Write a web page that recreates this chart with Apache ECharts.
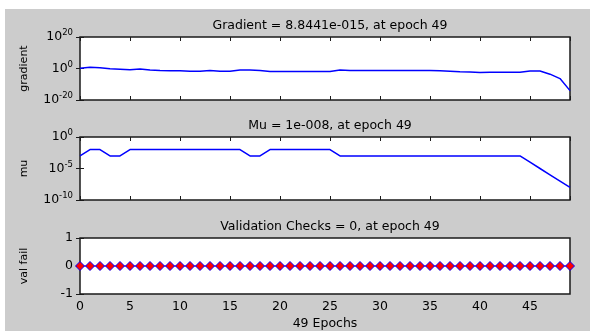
<!DOCTYPE html>
<html>
<head>
<meta charset="utf-8">
<script src="https://cdn.jsdelivr.net/npm/echarts@6/dist/echarts.min.js"></script>
<style>
  html, body { margin: 0; padding: 0; background: #ffffff; }
  #chart { position: absolute; left: 5px; top: 9px; width: 585px; height: 322px; background: #cccccc; }
</style>
</head>
<body>
<div id="chart"></div>
<script>
// Training record of a neural network, 49 epochs
const epochs = [0,1,2,3,4,5,6,7,8,9,10,11,12,13,14,15,16,17,18,19,20,21,22,23,24,25,26,27,28,29,30,31,32,33,34,35,36,37,38,39,40,41,42,43,44,45,46,47,48,49];

const gradient = [
  1.6, 6.3, 3.2, 0.63, 0.32, 0.16, 0.5, 0.1, 0.05, 0.04,
  0.032, 0.02, 0.02, 0.05, 0.02, 0.02, 0.1, 0.13, 0.05, 0.013,
  0.0126, 0.0126, 0.0126, 0.0126, 0.0126, 0.0126, 0.13, 0.063, 0.05, 0.05,
  0.05, 0.05, 0.05, 0.05, 0.05, 0.05, 0.032, 0.016, 0.008, 0.005,
  0.003, 0.004, 0.004, 0.004, 0.004, 0.025, 0.025, 2.5e-4, 4e-7, 8.8441e-15
];

const mu = [
  1e-3, 1e-2, 1e-2, 1e-3, 1e-3, 1e-2, 1e-2, 1e-2, 1e-2, 1e-2,
  1e-2, 1e-2, 1e-2, 1e-2, 1e-2, 1e-2, 1e-2, 1e-3, 1e-3, 1e-2,
  1e-2, 1e-2, 1e-2, 1e-2, 1e-2, 1e-2, 1e-3, 1e-3, 1e-3, 1e-3,
  1e-3, 1e-3, 1e-3, 1e-3, 1e-3, 1e-3, 1e-3, 1e-3, 1e-3, 1e-3,
  1e-3, 1e-3, 1e-3, 1e-3, 1e-3, 1e-4, 1e-5, 1e-6, 1e-7, 1e-8
];

const valFail = [
  0,0,0,0,0,0,0,0,0,0, 0,0,0,0,0,0,0,0,0,0,
  0,0,0,0,0,0,0,0,0,0, 0,0,0,0,0,0,0,0,0,0,
  0,0,0,0,0,0,0,0,0,0
];

const titles = [
  'Gradient = 8.8441e-015, at epoch 49',
  'Mu = 1e-008, at epoch 49',
  'Validation Checks = 0, at epoch 49'
];
const yNames = ['gradient', 'mu', 'val fail'];
const xName = '49 Epochs';

const FONT = 'DejaVu Sans';
const AX = '#1a1a1a';
const BLUE = '#0000ff';

const chart = echarts.init(document.getElementById('chart'), null, { renderer: 'canvas' });

// plot boxes (relative to the gray figure area)
const boxes = [
  { left: 75, top: 28, width: 490, height: 63 },
  { left: 75, top: 128, width: 490, height: 63 },
  { left: 75, top: 229, width: 490, height: 63 }
];

const grids = boxes.map(b => ({
  left: b.left, top: b.top, width: b.width, height: b.height,
  show: true, backgroundColor: '#ffffff', borderColor: AX, borderWidth: 1.5,
  containLabel: false
}));

const supLabel = {
  fontFamily: FONT, color: '#000', fontSize: 12.5, margin: 7,
  formatter: v => '{b|10}{s|' + Math.round(Math.log10(v)) + '}',
  rich: {
    b: { fontFamily: FONT, fontSize: 12.5, color: '#000' },
    s: { fontFamily: FONT, fontSize: 8.5, color: '#000', padding: [0, 0, 8, 0] }
  }
};

const tick = { show: true, inside: true, length: 4, lineStyle: { color: AX, width: 1 } };

const xAxes = [];
const yAxes = [];
for (let g = 0; g < 3; g++) {
  // bottom axis
  xAxes.push({
    type: 'value', gridIndex: g, min: 0, max: 49, interval: 5, position: 'bottom',
    axisLine: { show: false }, splitLine: { show: false }, axisTick: tick,
    axisLabel: g === 2
      ? { show: true, fontFamily: FONT, fontSize: 12.5, color: '#000', margin: 6, showMaxLabel: false }
      : { show: false },
    name: g === 2 ? xName : '', nameLocation: 'middle', nameGap: 23,
    nameTextStyle: { fontFamily: FONT, fontSize: 12.5, color: '#000' }
  });
  // top axis (tick marks only)
  xAxes.push({
    type: 'value', gridIndex: g, min: 0, max: 49, interval: 5, position: 'top',
    axisLine: { show: false }, splitLine: { show: false }, axisTick: tick,
    axisLabel: { show: false }
  });
}

// gradient (log)
yAxes.push({
  type: 'log', logBase: 10, gridIndex: 0, min: 1e-20, max: 1e20, interval: 20, splitNumber: 2,
  position: 'left', axisLine: { show: false }, splitLine: { show: false }, axisTick: tick,
  axisLabel: supLabel,
  name: yNames[0], nameLocation: 'middle', nameGap: 50,
  nameTextStyle: { fontFamily: FONT, fontSize: 11, color: '#000' }
});
yAxes.push({
  type: 'log', logBase: 10, gridIndex: 0, min: 1e-20, max: 1e20, interval: 20, splitNumber: 2,
  position: 'right', axisLine: { show: false }, splitLine: { show: false }, axisTick: tick,
  axisLabel: { show: false }
});
// mu (log)
yAxes.push({
  type: 'log', logBase: 10, gridIndex: 1, min: 1e-10, max: 1, interval: 5, splitNumber: 2,
  position: 'left', axisLine: { show: false }, splitLine: { show: false }, axisTick: tick,
  axisLabel: supLabel,
  name: yNames[1], nameLocation: 'middle', nameGap: 50,
  nameTextStyle: { fontFamily: FONT, fontSize: 11, color: '#000' }
});
yAxes.push({
  type: 'log', logBase: 10, gridIndex: 1, min: 1e-10, max: 1, interval: 5, splitNumber: 2,
  position: 'right', axisLine: { show: false }, splitLine: { show: false }, axisTick: tick,
  axisLabel: { show: false }
});
// validation fails
yAxes.push({
  type: 'value', gridIndex: 2, min: -1, max: 1, interval: 1,
  position: 'left', axisLine: { show: false }, splitLine: { show: false }, axisTick: tick,
  axisLabel: { fontFamily: FONT, fontSize: 12.5, color: '#000', margin: 7 },
  name: yNames[2], nameLocation: 'middle', nameGap: 50,
  nameTextStyle: { fontFamily: FONT, fontSize: 11, color: '#000' }
});
yAxes.push({
  type: 'value', gridIndex: 2, min: -1, max: 1, interval: 1,
  position: 'right', axisLine: { show: false }, splitLine: { show: false }, axisTick: tick,
  axisLabel: { show: false }
});

const pairs = arr => arr.map((v, i) => [epochs[i], v]);

chart.setOption({
  animation: false,
  backgroundColor: '#cccccc',
  title: titles.map((t, i) => ({
    text: t, left: boxes[i].left + boxes[i].width / 2, top: boxes[i].top - 23,
    textAlign: 'center',
    textStyle: { fontFamily: FONT, fontSize: 12.5, fontWeight: 'normal', color: '#000' }
  })),
  grid: grids,
  xAxis: xAxes,
  yAxis: yAxes,
  series: [
    {
      type: 'line', xAxisIndex: 0, yAxisIndex: 0, data: pairs(gradient),
      showSymbol: false, lineStyle: { color: BLUE, width: 1.5 }
    },
    {
      type: 'line', xAxisIndex: 2, yAxisIndex: 2, data: pairs(mu),
      showSymbol: false, lineStyle: { color: BLUE, width: 1.5 }
    },
    {
      type: 'line', xAxisIndex: 4, yAxisIndex: 4, data: pairs(valFail),
      symbol: 'diamond', symbolSize: 9, showSymbol: true,
      lineStyle: { color: BLUE, width: 1.2 },
      itemStyle: { color: '#ff0000', borderColor: BLUE, borderWidth: 1 }
    }
  ]
});
</script>
</body>
</html>
